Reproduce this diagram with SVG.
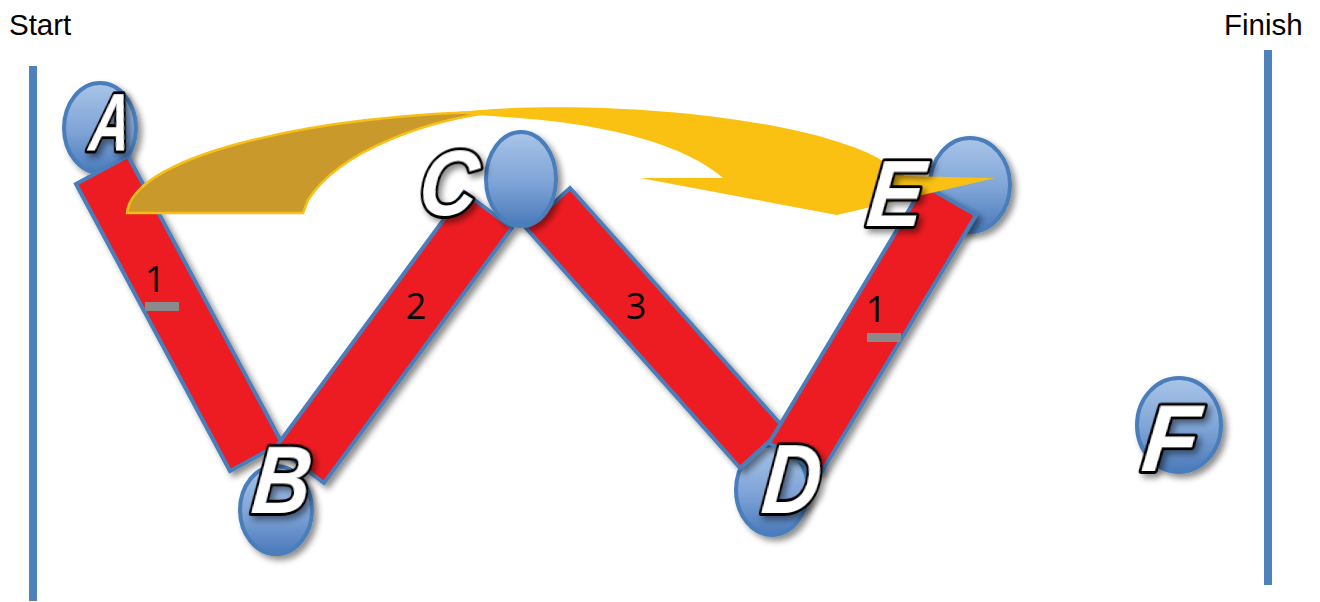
<svg xmlns="http://www.w3.org/2000/svg" width="1320" height="602" viewBox="0 0 1320 602">
<defs>
<linearGradient id="ballGrad" x1="0" y1="0" x2="0" y2="1">
<stop offset="0" stop-color="#A9C5E8"/>
<stop offset="0.55" stop-color="#7DA3D6"/>
<stop offset="1" stop-color="#4A79BA"/>
</linearGradient>
<filter id="shadow" x="-30%" y="-30%" width="160%" height="160%">
<feGaussianBlur in="SourceAlpha" stdDeviation="3"/>
<feOffset dx="4" dy="4" result="b"/>
<feComponentTransfer><feFuncA type="linear" slope="0.45"/></feComponentTransfer>
<feMerge><feMergeNode/><feMergeNode in="SourceGraphic"/></feMerge>
</filter>
<style>
.ball{fill:url(#ballGrad);stroke:#4A7EBB;stroke-width:4}
.bar{fill:#ED1C24;stroke:#4A7EBB;stroke-width:4;stroke-linejoin:miter}
.post{stroke:#4F81BD;stroke-width:8}
.lbl{font-family:"Liberation Sans",Arial,sans-serif;font-weight:bold;font-style:italic;fill:#FFFFFF;stroke:#000000;stroke-width:6;paint-order:stroke;stroke-linejoin:round}
.num{font-family:"Open Sans","Liberation Sans",Arial,sans-serif;font-size:36px;fill:#000000;text-anchor:middle}
.cap{font-family:"Liberation Sans",Arial,sans-serif;font-size:29.5px;fill:#000000}
.tag{fill:#8A8A8A}
</style>
</defs>
<rect width="1320" height="602" fill="#FFFFFF"/>

<g id="posts">
<line class="post" x1="33" y1="66" x2="33" y2="601"/>
<line class="post" x1="1268" y1="50" x2="1268" y2="585"/>
<text class="cap" x="9" y="35">Start</text>
<text class="cap" x="1224" y="35">Finish</text>
</g>

<g id="node-A"><ellipse class="ball" cx="100" cy="128" rx="36" ry="45" filter="url(#shadow)"/></g>
<g id="node-B"><ellipse class="ball" cx="276" cy="510" rx="36" ry="44" filter="url(#shadow)"/></g>
<g id="node-D"><ellipse class="ball" cx="772" cy="490" rx="36" ry="45" filter="url(#shadow)"/></g>
<g id="node-E"><ellipse class="ball" cx="970" cy="185" rx="40" ry="47" filter="url(#shadow)"/></g>
<g id="node-F"><ellipse class="ball" cx="1179" cy="425" rx="42" ry="47" filter="url(#shadow)"/></g>

<g id="connectors">
<g id="bar-AB">
<polygon class="bar" points="76,184 128,156 282,443 230,471" filter="url(#shadow)"/>
<text class="num" x="155" y="292">1</text>
<rect class="tag" x="145" y="302" width="34" height="9"/>
</g>
<g id="bar-BC">
<polygon class="bar" points="276,447 464,192 512,228 324,483" filter="url(#shadow)"/>
<text class="num" x="416" y="319">2</text>
</g>
<g id="bar-CD">
<polygon class="bar" points="526,228 570,188 784,428 740,468" filter="url(#shadow)"/>
<text class="num" x="636" y="319">3</text>
</g>
<g id="bar-DE">
<polygon class="bar" points="769,443 924,185 976,215 821,473" filter="url(#shadow)"/>
<text class="num" x="876" y="322">1</text>
<rect class="tag" x="867" y="333" width="34" height="9"/>
</g>
<g id="arrow-AE">
<path d="M127,213 C132,160 290,116 505,111 C430,118 340,150 308,200 L303,213 Z" fill="#C99A2B" stroke="#F8C016" stroke-width="2.5"/>
<path d="M450,113 C570,98 790,112 878,158 L905,176 L995,178 L837,215 L640,178 L723,178 C680,140 590,122 505,117 Z" fill="#FBC112"/>
</g>
</g>

<g id="node-C"><ellipse class="ball" cx="521" cy="179" rx="35" ry="47" filter="url(#shadow)"/></g>

<g id="labels">
<text class="lbl" transform="translate(88,150) skewX(-6)" font-size="82" textLength="40" lengthAdjust="spacingAndGlyphs" filter="url(#shadow)">A</text>
<text class="lbl" transform="translate(250,513) skewX(-6)" font-size="96" textLength="58" lengthAdjust="spacingAndGlyphs" filter="url(#shadow)">B</text>
<text class="lbl" transform="translate(417,215) skewX(-6)" font-size="92" textLength="58" lengthAdjust="spacingAndGlyphs" filter="url(#shadow)">C</text>
<text class="lbl" transform="translate(760,513) skewX(-6)" font-size="98" textLength="58" lengthAdjust="spacingAndGlyphs" filter="url(#shadow)">D</text>
<text class="lbl" transform="translate(865,226) skewX(-6)" font-size="94" textLength="56" lengthAdjust="spacingAndGlyphs" filter="url(#shadow)">E</text>
<text class="lbl" transform="translate(1140,471) skewX(-6)" font-size="94" textLength="56" lengthAdjust="spacingAndGlyphs" filter="url(#shadow)">F</text>
</g>
</svg>
